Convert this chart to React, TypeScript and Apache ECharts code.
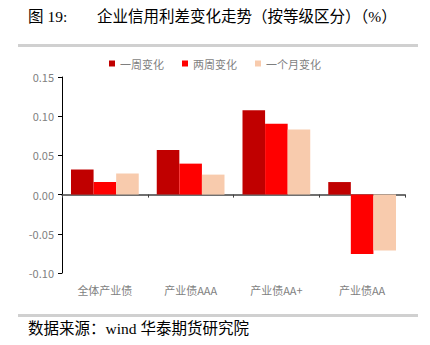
import React, { useEffect, useRef } from "react";
import * as echarts from "echarts";

const categories = ["全体产业债", "产业债AAA", "产业债AA+", "产业债AA"];
const weekly = [0.032, 0.057, 0.1075, 0.016];
const biweekly = [0.016, 0.0395, 0.0905, -0.0757];
const monthly = [0.027, 0.0255, 0.083, -0.0714];
const seriesNames = ["一周变化", "两周变化", "一个月变化"];
const colors = ["#C00000", "#FF0000", "#F8CBAD"];

const serif = "'Liberation Serif', 'DejaVu Serif', 'Noto Sans CJK SC', serif";
const sans = "'Noto Sans CJK SC', 'Noto Sans', sans-serif";

export default function App() {
  const ref = useRef<HTMLDivElement>(null);
  useEffect(() => {
    if (!ref.current) return;
    const chart = echarts.init(ref.current, undefined, { renderer: "svg" });
    const data = [weekly, biweekly, monthly];
    chart.setOption({
      animation: false,
      backgroundColor: "#ffffff",
      legend: {
        top: 53,
        left: "center",
        itemWidth: 6,
        itemHeight: 6,
        itemGap: 18,
        icon: "rect",
        textStyle: { color: "#7f7f7f", fontSize: 11, fontFamily: sans },
        data: seriesNames,
      },
      grid: { left: 62, right: 25, top: 77, bottom: 72 },
      xAxis: [
        {
          type: "category",
          data: categories,
          axisLine: { onZero: true, lineStyle: { color: "#404040", width: 1.5 } },
          axisTick: { show: true, length: 3, lineStyle: { color: "#404040" } },
          axisLabel: { show: false },
        },
        {
          type: "category",
          data: categories,
          position: "bottom",
          axisLine: { show: false, onZero: false },
          axisTick: { show: false },
          axisLabel: { show: true, color: "#7f7f7f", fontSize: 11, fontFamily: sans, margin: 11 },
        },
      ],
      yAxis: {
        type: "value",
        min: -0.1,
        max: 0.15,
        interval: 0.05,
        splitLine: { show: false },
        axisLine: { show: true, lineStyle: { color: "#000000", width: 1 } },
        axisTick: { show: true, inside: false, length: 4, lineStyle: { color: "#000000" } },
        axisLabel: {
          color: "#7f7f7f",
          fontSize: 11,
          fontFamily: sans,
          margin: 8,
          formatter: (v: number) => v.toFixed(2),
        },
      },
      series: seriesNames.map((name, i) => ({
        name,
        type: "bar",
        xAxisIndex: 0,
        data: data[i],
        barGap: "0%",
        barCategoryGap: "21%",
        itemStyle: { color: colors[i] },
      })),
      graphic: [
        {
          type: "text",
          left: 28,
          top: 9,
          style: { text: "图 19:", font: `15.5px ${serif}`, fill: "#000" },
        },
        {
          type: "text",
          left: 97,
          top: 9,
          style: {
            text: "企业信用利差变化走势（按等级区分）（%）",
            font: `15.5px ${serif}`,
            fill: "#000",
          },
        },
        {
          type: "rect",
          shape: { x: 18, y: 44, width: 400, height: 3 },
          style: { fill: "#d0d0d0" },
        },
        {
          type: "rect",
          shape: { x: 18, y: 314, width: 400, height: 3 },
          style: { fill: "#d0d0d0" },
        },
        {
          type: "text",
          left: 28,
          top: 321,
          style: { text: "数据来源：wind 华泰期货研究院", font: `15.5px ${serif}`, fill: "#000" },
        },
      ],
    });
    return () => chart.dispose();
  }, []);
  return <div ref={ref} style={{ width: 430, height: 345, position: "absolute", left: 0, top: 0 }} />;
}
